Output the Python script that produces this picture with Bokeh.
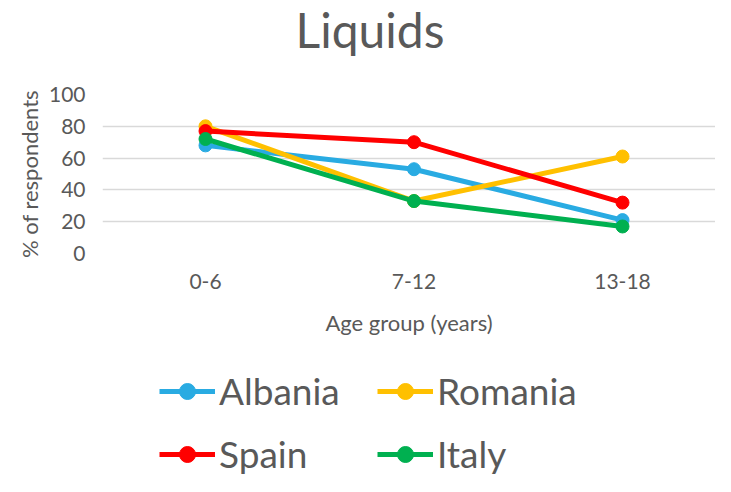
from bokeh.plotting import figure
from bokeh.layouts import column
from bokeh.models import Range1d, FixedTicker, Legend, LegendItem, Title
from bokeh.embed import file_html
from bokeh.resources import INLINE

age_groups = ["0-6", "7-12", "13-18"]
albania = [68, 53, 21]
romania = [80, 33, 61]
spain = [77, 70, 32]
italy = [72, 33, 17]
series = [("Albania", albania, "#29ABE2"),
          ("Romania", romania, "#FFC000"),
          ("Spain", spain, "#FF0000"),
          ("Italy", italy, "#00B050")]
legend_order = ["Albania", "Spain", "Romania", "Italy"]  # column-major -> rows Albania/Romania, Spain/Italy

x = list(range(len(age_groups)))
TXT = "#595959"
FONT = "Lato"

p = figure(width=715, height=343, output_backend="svg", toolbar_location=None,
           x_range=Range1d(-0.494, 2.446), y_range=Range1d(0, 100),
           min_border_left=102, min_border_right=0, min_border_top=0,
           min_border_bottom=90, title=None)
p.outline_line_color = None
p.background_fill_color = "white"
p.border_fill_color = "white"

spacer = Title(text=" ", text_font_size="10px", standoff=22)
p.add_layout(spacer, "above")
main_title = Title(text="Liquids", text_font=FONT, text_font_size="48px",
                   text_font_style="normal", text_color=TXT, align="left",
                   offset=193, standoff=0, vertical_align="top")
p.add_layout(main_title, "above")

p.xaxis.ticker = FixedTicker(ticks=x)
p.xaxis.major_label_overrides = {i: g for i, g in enumerate(age_groups)}
p.yaxis.ticker = FixedTicker(ticks=[0, 20, 40, 60, 80, 100])
for ax in (p.xaxis, p.yaxis):
    ax.axis_line_color = None
    ax.major_tick_line_color = None
    ax.minor_tick_line_color = None
    ax.major_tick_out = 0
    ax.major_tick_in = 0
    ax.minor_tick_out = 0
    ax.major_label_text_font = FONT
    ax.major_label_text_font_size = "21px"
    ax.major_label_text_color = TXT
    ax.axis_label_text_font = FONT
    ax.axis_label_text_font_size = "22px"
    ax.axis_label_text_font_style = "normal"
    ax.axis_label_text_color = TXT
p.xaxis.axis_label = "Age group (years)"
p.yaxis.axis_label = "% of respondents"
p.xaxis.major_label_standoff = 20
p.xaxis.axis_label_standoff = 17
p.yaxis.major_label_standoff = 17
p.yaxis.axis_label_standoff = 3

p.xgrid.grid_line_color = None
p.ygrid.grid_line_color = "#D9D9D9"
p.ygrid.grid_line_width = 1.5

for name, vals, col in series:
    p.line(x, vals, line_color=col, line_width=5)
    p.scatter(x, vals, size=13, fill_color=col, line_color=col)

# legend panel below the chart (series drawn out of view, only the legend shows)
p2 = figure(width=715, height=133, output_backend="svg", toolbar_location=None,
            x_range=Range1d(10, 11), y_range=Range1d(500, 501),
            x_axis_location=None, y_axis_location=None,
            min_border=0, title=None)
p2.grid.visible = False
p2.outline_line_color = None
p2.border_fill_color = "white"
p2.background_fill_color = "white"

renderers = {}
for name, vals, col in series:
    r1 = p2.line(x, vals, line_color=col, line_width=5)
    r2 = p2.scatter(x, vals, size=13, fill_color=col, line_color=col)
    renderers[name] = [r1, r2]

items = [LegendItem(label=n, renderers=renderers[n]) for n in legend_order]
legend = Legend(items=items, ncols=2, location=(57, 0))
legend.label_text_font = FONT
legend.label_text_font_size = "37px"
legend.label_text_color = TXT
legend.glyph_width = 56
legend.glyph_height = 40
legend.label_height = 40
legend.label_width = 140
legend.label_standoff = 4
legend.spacing = 18
legend.padding = 0
legend.margin = 0
legend.border_line_color = None
legend.background_fill_alpha = 0
p2.add_layout(legend, "center")

layout = column(p, p2, spacing=0)
open("out.html", "w").write(file_html(layout, INLINE))
